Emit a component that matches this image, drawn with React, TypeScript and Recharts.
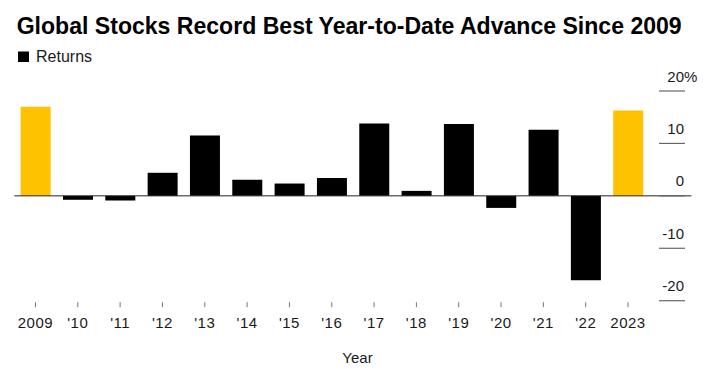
import React from 'react';
import { BarChart, Bar, XAxis, YAxis, Cell, ReferenceLine } from 'recharts';

const years = ['2009', "'10", "'11", "'12", "'13", "'14", "'15", "'16", "'17", "'18", "'19", "'20", "'21", "'22", '2023'];
const returns = [17.0, -0.75, -0.9, 4.4, 11.5, 3.05, 2.35, 3.4, 13.8, 0.95, 13.7, -2.3, 12.6, -16.1, 16.3];
const highlighted = ['2009', '2023'];
const yTicks = [20, 10, 0, -10, -20];

const title = 'Global Stocks Record Best Year-to-Date Advance Since 2009';
const seriesName = 'Returns';
const xTitle = 'Year';

const data = years.map((year, i) => ({ year, value: returns[i] }));

const FONT = '"Liberation Sans", Arial, Helvetica, sans-serif';

const XTick = (props: any) => {
  const { x, y, payload } = props;
  return (
    <g>
      <line x1={x} x2={x} y1={y + 1.5} y2={y + 6.5} stroke="#777" strokeWidth={1} />
      <text x={x} y={y + 27} textAnchor="middle" fontFamily={FONT} fontSize={15} fill="#1a1a1a" letterSpacing={0.5}>
        {payload.value}
      </text>
    </g>
  );
};

const YTick = (props: any) => {
  const { x, y, payload } = props;
  const v = payload.value;
  return (
    <g>
      <line x1={x - 26} x2={x} y1={y} y2={y} stroke="#666" strokeWidth={1.2} />
      <text x={x - 1} y={y - 9.5} textAnchor="end" fontFamily={FONT} fontSize={15} fill="#1a1a1a">
        {String(v)}
      </text>
      {v === yTicks[0] ? (
        <text x={x - 1} y={y - 9.5} textAnchor="start" fontFamily={FONT} fontSize={15} fill="#1a1a1a">%</text>
      ) : null}
    </g>
  );
};

const ZeroLine = (p: any) => (
  <line x1={p.x1 + 6.4} y1={p.y1} x2={p.x2} y2={p.y2} stroke="#222" strokeWidth={1} />
);

export default function App() {
  return (
    <div style={{ position: 'absolute', left: 0, top: 0, width: 717, height: 369, background: '#fff', overflow: 'hidden' }}>
      <svg width={717} height={70} style={{ position: 'absolute', left: 0, top: 0 }}>
        <text x={16.7} y={33.5} fontFamily={FONT} fontWeight="bold" fontSize={24} fill="#000" textLength={665} lengthAdjust="spacingAndGlyphs">
          {title}
        </text>
        <rect x={18} y={51.5} width={11} height={10.5} fill="#000" />
        <text x={36} y={61.5} fontFamily={FONT} fontSize={16} fill="#1a1a1a">{seriesName}</text>
      </svg>
      <div style={{ position: 'absolute', left: 0, top: 0 }}>
        <BarChart
          width={717}
          height={369}
          data={data}
          margin={{ top: 91, right: 0, bottom: 0, left: 14.3 }}
          barCategoryGap="15%"
        >
          <XAxis
            dataKey="year"
            axisLine={false}
            tickLine={false}
            tickSize={0}
            tickMargin={0}
            interval={0}
            height={68.3}
            padding={{ left: 0, right: 35.8 }}
            tick={<XTick />}
          />
          <YAxis
            orientation="right"
            domain={[-20, 20]}
            ticks={yTicks}
            axisLine={false}
            tickLine={false}
            tickSize={0}
            tickMargin={0}
            width={32}
            tick={<YTick />}
            interval={0}
          />
          <Bar dataKey="value" isAnimationActive={false}>
            {data.map((d) => (
              <Cell key={d.year} fill={highlighted.includes(d.year) ? '#FFC200' : '#000'} />
            ))}
          </Bar>
          <ReferenceLine y={0} shape={<ZeroLine />} />
        </BarChart>
      </div>
      <svg width={717} height={369} style={{ position: 'absolute', left: 0, top: 0, pointerEvents: 'none' }}>
        <text x={357.5} y={363} textAnchor="middle" fontFamily={FONT} fontSize={15} fill="#1a1a1a">{xTitle}</text>
      </svg>
    </div>
  );
}
